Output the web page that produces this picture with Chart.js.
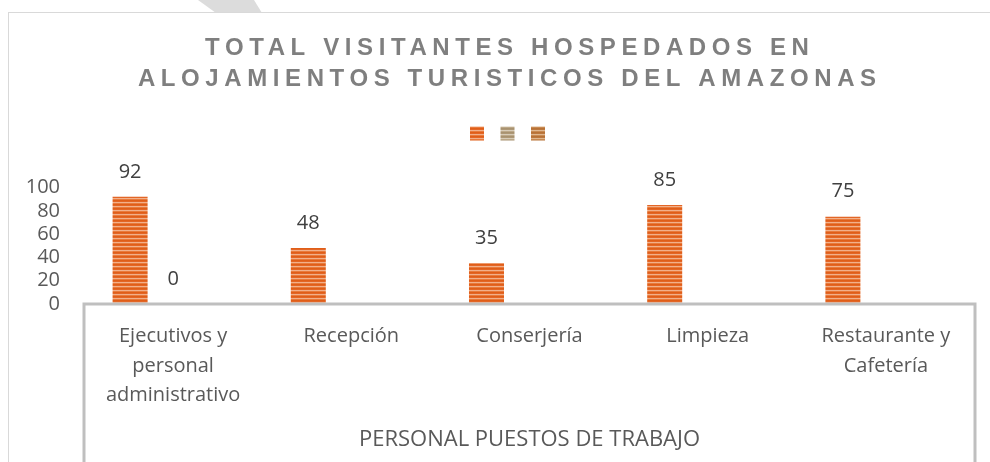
<!DOCTYPE html>
<html><head><meta charset="utf-8">
<script src="https://cdn.jsdelivr.net/npm/chart.js@4.4.1/dist/chart.umd.min.js"></script>
<style>
html,body{margin:0;padding:0;background:#fff;width:990px;height:462px;overflow:hidden;position:relative;}
#frame{position:absolute;left:8px;top:12px;width:1100px;height:600px;border:1.5px solid #d9d9d9;box-sizing:border-box;}
#mark{position:absolute;left:196px;top:0;width:70px;height:13px;background:#dcdcdc;clip-path:polygon(2px 0,58px 0,66px 13px,20px 13px);}
#wrap{position:absolute;left:8px;top:12px;width:977px;height:450px;}
</style></head><body>
<div id="mark"></div><div id="frame"></div>
<div id="wrap"><canvas id="c" width="977" height="450"></canvas></div>
<script>
const chartTitle = ['TOTAL VISITANTES HOSPEDADOS EN', 'ALOJAMIENTOS TURISTICOS DEL AMAZONAS'];
const axisTitle = 'PERSONAL PUESTOS DE TRABAJO';
const categories = [['Ejecutivos y', 'personal', 'administrativo'], 'Recepción', 'Conserjería', 'Limpieza', ['Restaurante y', 'Cafetería']];
const serie1 = [92, 48, 35, 85, 75];
const serie2 = [0, null, null, null, null];
const serie3 = [null, null, null, null, null];
const yMin = 0, yMax = 100, yStep = 20;

const canvas = document.getElementById('c');
const ctx = canvas.getContext('2d');
function stripes(rows) {
  const c = document.createElement('canvas');
  c.width = 4; c.height = rows.length;
  const x = c.getContext('2d');
  rows.forEach((col, i) => { x.fillStyle = col; x.fillRect(0, i, 4, 1); });
  return ctx.createPattern(c, 'repeat');
}
const patOrange = stripes(['#E05E18', '#E36626', '#F2B08A', '#E87A3C']);
const patTan = stripes(['#A89270', '#AE9876', '#D8CCB8', '#BCA888']);
const patBrown = stripes(['#B87236', '#BC783E', '#E0B890', '#C88A52']);

function shiftBox(box, dx, spacing) {
  if (!box || box._shifted) return;
  const orig = box.draw.bind(box);
  box.draw = function (area) {
    const c = this.ctx;
    c.save();
    if (spacing) c.letterSpacing = spacing;
    c.translate(dx, 0);
    orig(area);
    c.restore();
  };
  box._shifted = true;
}

const boxShift = {
  id: 'boxShift',
  beforeDraw(chart) {
    shiftBox(chart.titleBlock, 18.3, '5.6px');
    shiftBox(chart.legend, 19, null);
  }
};

const valueLabels = {
  id: 'valueLabels',
  afterDatasetsDraw(chart) {
    const c = chart.ctx;
    c.save();
    c.font = '20px "Open Sans"';
    c.fillStyle = '#404040';
    c.textAlign = 'center';
    c.textBaseline = 'middle';
    chart.data.datasets.forEach((ds, i) => {
      const meta = chart.getDatasetMeta(i);
      meta.data.forEach((el, j) => {
        const v = ds.data[j];
        if (v === null || v === undefined) return;
        c.fillText(String(v), el.x, el.y - 25);
      });
    });
    c.restore();
  }
};

const axisBox = {
  id: 'axisBox',
  afterDatasetsDraw(chart) {
    const c = chart.ctx, a = chart.chartArea;
    c.save();
    c.strokeStyle = '#bfbfbf';
    c.lineWidth = 3;
    c.lineJoin = 'miter';
    c.beginPath();
    c.moveTo(a.left, chart.height);
    c.lineTo(a.left, a.bottom);
    c.lineTo(a.right, a.bottom);
    c.lineTo(a.right, chart.height);
    c.stroke();
    c.restore();
  }
};

new Chart(ctx, {
  type: 'bar',
  data: {
    labels: categories,
    datasets: [
      { label: '', data: serie1, backgroundColor: patOrange, borderWidth: 0 },
      { label: '', data: serie2, backgroundColor: patTan, borderWidth: 0 },
      { label: '', data: serie3, backgroundColor: patBrown, borderWidth: 0 }
    ]
  },
  options: {
    responsive: false,
    animation: false,
    devicePixelRatio: 1,
    layout: { padding: { left: 0, right: 10, top: 0, bottom: 0 } },
    datasets: { bar: { categoryPercentage: 0.724, barPercentage: 0.814 } },
    plugins: {
      title: {
        display: true, text: chartTitle, color: '#7f7f7f',
        font: { family: '"Liberation Sans", Arial, sans-serif', size: 24, weight: 'bold', lineHeight: 31 / 24 },
        padding: { top: 20.5, bottom: 21.5 }
      },
      subtitle: { display: true, text: '', position: 'top', weight: 500, font: { size: 37, lineHeight: 1 }, padding: 0 },
      legend: { display: true, position: 'top', labels: { boxWidth: 14, boxHeight: 14, padding: 10.5, font: { size: 12 } } },
      tooltip: { enabled: false }
    },
    scales: {
      x: {
        grid: { display: false, drawTicks: false },
        border: { display: false },
        ticks: { color: '#595959', font: { family: '"Open Sans"', size: 20, lineHeight: 1.48 }, padding: 17.5, maxRotation: 0, autoSkip: false },
        title: { display: true, text: axisTitle, color: '#595959', font: { family: '"Open Sans"', size: 22, lineHeight: 1.2 }, padding: { top: 0, bottom: 9.5 } },
        afterFit(s) { s.height = 158; }
      },
      y: {
        min: yMin, max: yMax,
        ticks: { stepSize: yStep, color: '#595959', font: { family: '"Open Sans"', size: 20 }, padding: 24, autoSkip: false },
        grid: { display: false, drawTicks: false },
        border: { display: false },
        afterFit(s) { s.width = 76; }
      }
    }
  },
  plugins: [boxShift, valueLabels, axisBox]
});
</script>
</body></html>
